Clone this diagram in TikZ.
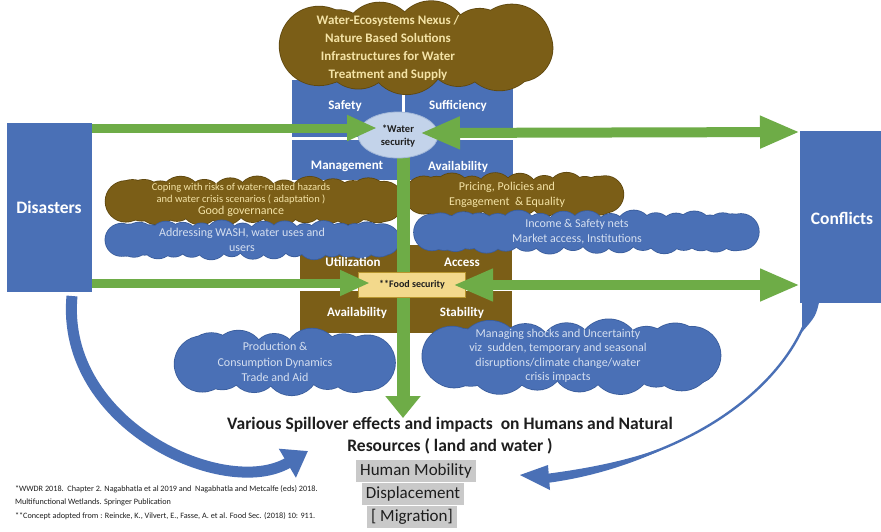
\documentclass[tikz,border=0pt]{standalone}
\usepackage{fontspec}
\setmainfont{Carlito}
\usetikzlibrary{shapes.geometric,arrows.meta,calc}

\definecolor{boxblue}{HTML}{4A70B6}
\definecolor{bluedark}{HTML}{3A5D9C}
\definecolor{earth}{HTML}{7B5E17}
\definecolor{earthdark}{HTML}{5E470E}
\definecolor{leaf}{HTML}{6EAC47}
\definecolor{paleblue}{HTML}{C3D3EA}
\definecolor{palebluedark}{HTML}{A3B8D8}
\definecolor{sand}{HTML}{F3D98C}
\definecolor{sanddark}{HTML}{B8962E}
\definecolor{cream}{HTML}{F4E3A6}
\definecolor{mist}{HTML}{D5DFF0}
\definecolor{shade}{HTML}{C9C9C9}
\definecolor{ink}{HTML}{1E1E1E}

% puffy cloud: name, centre x, centre y, width, height, fill, outline
% outline = slightly enlarged puffs in the edge colour, then the puffs in the fill colour
\newcommand{\puffcloud}[7]{%
  \coordinate (#1) at (#2,#3);
  \begin{scope}[shift={(#2,#3)}]
    \pgfmathsetmacro\pr{0.4*#5}
    \pgfmathsetmacro\ax{#4/2-\pr}
    \pgfmathsetmacro\ay{#5/2-\pr}
    \pgfmathsetmacro\ey{\ay+0.55*\pr}
    \pgfmathsetmacro\ex{\ax+0.55*\pr}
    \pgfmathtruncatemacro\np{max(9,6.283*\ax/(1.45*\pr))}
    \pgfmathsetmacro\st{360/\np}
    \foreach \k in {1,...,\np}{
      \pgfmathsetmacro\rr{\pr*(1+0.12*sin(\k*137))+0.8}
      \fill[#7] ({\ax*cos(\k*\st+7)},{\ay*sin(\k*\st+7)}) circle[radius=\rr pt];
    }
    \fill[#6] (0,0) ellipse[x radius=\ex pt, y radius=\ey pt];
    \foreach \k in {1,...,\np}{
      \pgfmathsetmacro\rr{\pr*(1+0.12*sin(\k*137))}
      \fill[#6] ({\ax*cos(\k*\st+7)},{\ay*sin(\k*\st+7)}) circle[radius=\rr pt];
    }
  \end{scope}}

\begin{document}
\begin{tikzpicture}[x=1pt,y=-1pt,
  every node/.style={inner sep=0pt, outer sep=0pt},
  wquad/.style={rectangle, fill=boxblue, anchor=north west},
  fquad/.style={rectangle, fill=earth, anchor=north west},
  qlabel/.style={font=\bfseries\fontsize{13}{15}\selectfont, text=white},
  etext/.style={text=cream, align=center},
  btext/.style={text=mist, align=center},
  sidebox/.style={rectangle, fill=boxblue, text=white,
    font=\bfseries\fontsize{17.5}{20}\selectfont},
  garrow/.style={draw=leaf, line cap=butt},
  hl/.style={fill=shade, text=ink, font=\fontsize{17}{20}\selectfont,
    text height=13pt, text depth=5pt, inner xsep=4pt, inner ysep=2pt}
]
\useasboundingbox (0,0) rectangle (881,531);
\fill[white] (0,0) rectangle (881,531);

% curved return arrow from Disasters
\draw[boxblue, line width=11pt, line cap=butt, -{Triangle[length=24pt,width=32pt]}]
  (72,296) .. controls (60,425) and (225,500) .. (308,451);

% curved return arrow from Conflicts: wedge, thin body, thickening end, head
\fill[boxblue] (802,298) -- (820,298) .. controls (816,316) .. (802,332) -- cycle;
\draw[boxblue, line width=2.4pt] (811,302) .. controls (800,362) and (720,456) .. (546,478.5);
\fill[boxblue] (659.8,450.8) .. controls (628,465) and (590,477.4) .. (546.6,483)
  -- (545.4,474) .. controls (589,468.4) and (626.2,460.6) .. (659,449) -- cycle;
\fill[boxblue] (548,465) -- (520,475) -- (550,490) -- cycle;

% side boxes
\node[sidebox, minimum width=85pt, minimum height=169pt] (dis) at (49.5,207.5) {};
\node[sidebox] (dist) at (49,207) {Disasters};
\node[sidebox, minimum width=81pt, minimum height=172pt] (con) at (840.5,217) {};
\node[sidebox] (cont) at (842,218) {Conflicts};

% water security quadrants
\node[wquad, minimum width=109.5pt, minimum height=56.5pt] (wq1) at (292,80) {};
\node[wquad, minimum width=108.5pt, minimum height=56.5pt] (wq2) at (404.5,80) {};
\node[wquad, minimum width=109.5pt, minimum height=40.5pt] (wq3) at (292,139.5) {};
\node[wquad, minimum width=108.5pt, minimum height=40.5pt] (wq4) at (404.5,139.5) {};

% top cloud
\puffcloud{nexusc}{419}{47}{272}{88}{earth}{earthdark}
\node[etext, font=\bfseries\fontsize{13}{18}\selectfont] (nexus) at (388,48)
  {Water-Ecosystems Nexus /\\Nature Based Solutions\\Infrastructures for Water\\Treatment and Supply};

% food security quadrants
\node[fquad, minimum width=101.5pt, minimum height=42.5pt] (fq1) at (300,245) {};
\node[fquad, minimum width=107.5pt, minimum height=42.5pt] (fq2) at (404.5,245) {};
\node[fquad, minimum width=101.5pt, minimum height=42.5pt] (fq3) at (300,290.5) {};
\node[fquad, minimum width=107.5pt, minimum height=42.5pt] (fq4) at (404.5,290.5) {};

% middle clouds
\puffcloud{copingc}{255}{201}{296}{46}{earth}{earthdark}
\puffcloud{pricingc}{515}{195}{216}{42}{earth}{earthdark}
\puffcloud{washc}{253}{240}{292}{36}{boxblue}{bluedark}
\puffcloud{incomec}{586}{232}{342}{40}{boxblue}{bluedark}
\puffcloud{prodc}{283}{362}{220}{62}{boxblue}{bluedark}
\puffcloud{shockc}{573}{357}{300}{70}{boxblue}{bluedark}

\node[etext] (coping) at (241,200)
  {\fontsize{10.5}{14.5}\selectfont Coping with risks of water-related hazards\\
   \fontsize{10.5}{14.5}\selectfont and water crisis scenarios ( adaptation )\\
   \fontsize{12}{14.5}\selectfont Good governance};
\node[etext, font=\fontsize{12}{15}\selectfont] (pricing) at (507,195)
  {Pricing, Policies and\\Engagement\ \ \& Equality};
\node[btext, font=\fontsize{12}{15}\selectfont] (wash) at (242,240)
  {Addressing WASH, water uses and\\users};
\node[btext, font=\fontsize{12}{15}\selectfont] (income) at (577,232)
  {Income \& Safety nets\\Market access, Institutions};
\node[btext, font=\fontsize{12}{15.5}\selectfont] (prod) at (275,362)
  {Production \&\\Consumption Dynamics\\Trade and Aid};
\node[btext, font=\fontsize{12}{14.5}\selectfont] (shock) at (558,356)
  {Managing shocks and Uncertainty\\viz\ \ sudden, temporary and seasonal\\disruptions/climate change/water\\crisis impacts};

% central flow down to the impacts
\coordinate (vtop) at (403,150);
\coordinate (vtip) at (403,418);
\draw[garrow, line width=13pt, -{Triangle[length=22pt,width=34pt]}] (vtop) -- (vtip);

% water security hub
\node[ellipse, fill=paleblue, draw=palebluedark, line width=0.8pt,
  minimum width=80pt, minimum height=46pt] (wsec) at (398,135) {};

% food security hub
\node[rectangle, fill=sand, draw=sanddark, line width=0.9pt,
  minimum width=107pt, minimum height=25pt] (fsec) at (411.5,285) {};

% horizontal links
\coordinate (wtipL) at (377,128);
\coordinate (wtipR) at (420,133);
\coordinate (ftipL) at (370,283);
\coordinate (ftipR) at (453,285);
\draw[garrow, line width=9pt, -{Triangle[length=30pt,width=24pt]}]
  ($(dis.north east)+(0,5)$) -- (wtipL);
\draw[garrow, line width=10pt,
  {Triangle[length=40pt,width=30pt]}-{Triangle[length=40pt,width=30pt]}]
  (wtipR) -- ($(con.north west)+(0,1)$);
\draw[garrow, line width=9pt, -{Triangle[length=30pt,width=24pt]}]
  ($(dis.south east)+(0,-9)$) -- (ftipL);
\draw[garrow, line width=10pt,
  {Triangle[length=40pt,width=30pt]}-{Triangle[length=40pt,width=30pt]}]
  (ftipR) -- ($(con.south west)+(0,-18)$);

% hub and quadrant labels
\node[font=\bfseries\fontsize{10.5}{13.5}\selectfont, text=ink, align=center] (wsect) at (398,136)
  {*Water\\security};
\node[font=\bfseries\fontsize{10}{12}\selectfont, text=ink] (fsect) at (412,285) {**Food security};

\node[qlabel] (lsafety) at (345,106) {Safety};
\node[qlabel] (lsuff) at (458,106) {Sufficiency};
\node[qlabel] (lmanage) at (347,166) {Management};
\node[qlabel] (lavailw) at (458,167) {Availability};
\node[qlabel] (lutil) at (353,262) {Utilization};
\node[qlabel] (laccess) at (462,262) {Access};
\node[qlabel] (lavailf) at (357,313) {Availability};
\node[qlabel] (lstab) at (462,313) {Stability};

% impacts
\node[font=\bfseries\fontsize{17.5}{22}\selectfont, text=ink, align=center] (spill) at (450,436)
  {Various Spillover effects and impacts\ \ on Humans and Natural\\Resources ( land and water )};
\node[hl] (mob1) at (416,471) {Human Mobility\ };
\node[hl] (mob2) at (413,494) {Displacement};
\node[hl] (mob3) at (412,517) {[ Migration]};

% references
\node[anchor=north west, align=left, text=ink, font=\fontsize{8.2}{13.5}\selectfont] (notes) at (15,485)
  {*WWDR 2018.\ \ Chapter 2. Nagabhatla et al 2019 and\ \ Nagabhatla and Metcalfe (eds) 2018.\\
   Multifunctional Wetlands. Springer Publication\\
   **Concept adopted from : Reincke, K., Vilvert, E., Fasse, A. et al. Food Sec. (2018) 10: 911.};
\end{tikzpicture}
\end{document}
